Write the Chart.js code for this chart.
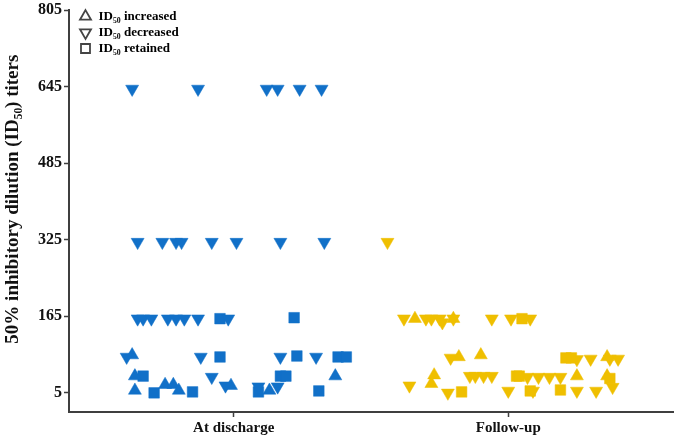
<!DOCTYPE html>
<html>
<head>
<meta charset="utf-8">
<script src="https://cdn.jsdelivr.net/npm/chart.js@4"></script>
<style>
  html, body { margin: 0; padding: 0; background: #fff; }
</style>
</head>
<body>
<canvas id="chart" width="675" height="439"></canvas>
<script>
// categories sit at x = 1 and x = 2, each point carries its own jitter
const categories = ['At discharge', 'Follow-up'];
const yTicks = [5, 165, 325, 485, 645, 805];
const legendNames = ['ID₅₀ increased', 'ID₅₀ decreased', 'ID₅₀ retained'];

const dischargeDecX = [0.63, 0.87, 1.12, 1.16, 1.24, 1.32,
  0.65, 0.74, 0.79, 0.81, 0.92, 1.01, 1.17, 1.33,
  0.65, 0.67, 0.70, 0.76, 0.79, 0.82, 0.87, 0.98,
  0.61, 0.88, 1.17, 1.30, 0.92, 0.97, 1.09, 1.16];
const dischargeDecY = [640, 640, 640, 640, 640, 640,
  320, 320, 320, 320, 320, 320, 320, 320,
  160, 160, 160, 160, 160, 160, 160, 160,
  80, 80, 80, 80, 38, 20, 18, 18];

const dischargeIncX = [0.63, 0.64, 1.37, 0.64, 0.75, 0.78, 0.80, 0.99, 1.13];
const dischargeIncY = [84, 40, 40, 10, 22, 22, 10, 20, 10];

const dischargeRetX = [0.95, 1.22, 0.95, 1.23, 1.38, 1.41, 0.67, 1.17, 1.19, 0.71, 0.85, 1.09, 1.31];
const dischargeRetY = [160, 162, 80, 82, 80, 80, 40, 40, 40, 5, 7, 7, 9];

const followDecX = [1.56,
  1.62, 1.70, 1.72, 1.75, 1.76, 1.80, 1.94, 2.01, 2.08,
  1.79, 2.25, 2.30, 2.37, 2.40,
  1.86, 1.88, 1.91, 1.94, 2.07, 2.11, 2.15, 2.19,
  1.64, 1.78, 2.00, 2.09, 2.25, 2.32, 2.38];
const followDecY = [320,
  160, 160, 160, 160, 152, 160, 160, 160, 160,
  78, 75, 76, 76, 76,
  40, 40, 40, 40, 38, 38, 38, 38,
  20, 5, 9, 9, 9, 9, 17];

const followIncX = [1.66, 1.80, 1.82, 1.90, 2.36, 1.73, 2.25, 2.36, 1.72];
const followIncY = [160, 160, 80, 84, 80, 42, 40, 40, 24];

const followRetX = [2.05, 2.21, 2.23, 2.03, 2.04, 2.37, 1.83, 2.08, 2.19];
const followRetY = [160, 78, 78, 40, 40, 35, 7, 9, 11];

const blue = '#1170c8';
const yellow = '#efbf00';
const axisColor = '#3f3f3f';
const serif = "'Liberation Serif', 'Times New Roman', serif";

function points(xs, ys) {
  return xs.map((x, i) => ({ x: x, y: ys[i] }));
}

function series(xs, ys, color, style, rotation) {
  return {
    data: points(xs, ys),
    backgroundColor: color,
    borderColor: color,
    borderWidth: 0.5,
    pointStyle: style,
    rotation: rotation,
    pointRadius: 7.5,
    pointHoverRadius: 7.5,
  };
}

const legendStyles = [
  { pointStyle: 'triangle', rotation: 0 },
  { pointStyle: 'triangle', rotation: 180 },
  { pointStyle: 'rect', rotation: 0 },
];

// nudge the in-plot legend away from the axes
const legendShift = {
  id: 'legendShift',
  afterLayout(chart) {
    const l = chart.legend;
    if (!l) return;
    l.left += 7; l.right += 7;
    l.top += 7; l.bottom += 7;
  },
};

new Chart(document.getElementById('chart'), {
  type: 'scatter',
  data: {
    datasets: [
      series(dischargeDecX, dischargeDecY, blue, 'triangle', 180),
      series(dischargeIncX, dischargeIncY, blue, 'triangle', 0),
      series(dischargeRetX, dischargeRetY, blue, 'rect', 0),
      series(followDecX, followDecY, yellow, 'triangle', 180),
      series(followIncX, followIncY, yellow, 'triangle', 0),
      series(followRetX, followRetY, yellow, 'rect', 0),
    ],
  },
  plugins: [legendShift],
  options: {
    responsive: false,
    animation: false,
    layout: { autoPadding: false, padding: { top: 7, right: 2, left: 0, bottom: 0 } },
    plugins: {
      tooltip: { enabled: false },
      legend: {
        position: 'chartArea',
        align: 'start',
        labels: {
          usePointStyle: true,
          boxWidth: 13,
          boxHeight: 9,
          padding: 3,
          color: '#111',
          font: { family: serif, size: 13, weight: 'bold' },
          generateLabels: () => legendNames.map((name, i) => ({
            text: name,
            fillStyle: '#fff',
            strokeStyle: '#444',
            lineWidth: 1.8,
            pointStyle: legendStyles[i].pointStyle,
            rotation: legendStyles[i].rotation,
            hidden: false,
          })),
        },
      },
    },
    scales: {
      x: {
        type: 'linear',
        min: 0.4,
        max: 2.6,
        afterBuildTicks: (scale) => {
          scale.ticks = categories.map((c, i) => ({ value: i + 1 }));
        },
        afterFit: (scale) => { scale.height = 27; },
        ticks: {
          callback: (v) => categories[v - 1],
          color: '#111',
          padding: 2,
          maxRotation: 0,
          font: { family: serif, size: 15, weight: 'bold' },
        },
        grid: {
          drawOnChartArea: false,
          tickLength: 5,
          tickColor: axisColor,
          tickWidth: 1.5,
        },
        border: { color: axisColor, width: 2 },
      },
      y: {
        min: -35,
        max: 805,
        afterBuildTicks: (scale) => {
          scale.ticks = yTicks.map((v) => ({ value: v }));
        },
        afterFit: (scale) => { scale.width = 69; },
        ticks: {
          color: '#111',
          padding: 2,
          font: { family: serif, size: 16, weight: 'bold', lineHeight: 1 },
        },
        grid: {
          drawOnChartArea: false,
          tickLength: 5,
          tickColor: axisColor,
          tickWidth: 1.5,
        },
        border: { color: axisColor, width: 2 },
        title: {
          display: true,
          text: '     50% inhibitory dilution (ID₅₀) titers',
          color: '#111',
          padding: { top: 2, bottom: 0 },
          font: { family: serif, size: 19, weight: 'bold' },
        },
      },
    },
  },
});
</script>
</body>
</html>
